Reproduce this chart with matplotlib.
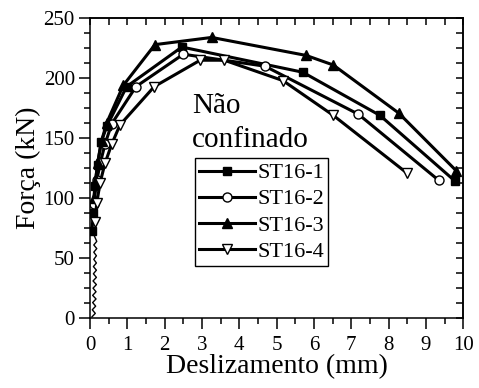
import matplotlib
matplotlib.use("Agg")
import matplotlib.pyplot as plt
from matplotlib.ticker import MultipleLocator, NullFormatter

plt.rcParams["font.family"] = ["Liberation Serif", "DejaVu Serif"]

# slip (mm) / force (kN)
st1_x = [0.05, 0.09, 0.13, 0.20, 0.30, 0.45, 0.98, 2.46, 5.70, 7.77, 9.79]
st1_y = [73, 88, 110, 128, 147, 160, 193, 226, 205, 169, 114]

st2_x = [0.10, 0.18, 0.28, 0.40, 0.58, 1.23, 2.50, 4.69, 7.19, 9.34]
st2_y = [95, 115, 130, 145, 162, 193, 220, 210, 170, 115]

st3_x = [0.10, 0.15, 0.20, 0.31, 0.45, 0.89, 1.74, 3.26, 5.79, 6.52, 8.27, 9.81]
st3_y = [100, 115, 129, 148, 163, 194, 228, 234, 219, 211, 171, 123]

st4_x = [0.13, 0.18, 0.27, 0.40, 0.58, 0.80, 1.72, 2.95, 3.60, 5.17, 6.52, 8.49]
st4_y = [80, 96, 113, 129, 145, 161, 193, 215, 215, 198, 169, 121]

# jagged initial branch near the origin
zig_x = [0.05, 0.14, 0.06, 0.15, 0.07, 0.16, 0.07, 0.16, 0.08, 0.17, 0.08,
         0.17, 0.09, 0.17, 0.09, 0.17, 0.10, 0.17, 0.10, 0.18, 0.10, 0.18, 0.05]
zig_y = [1, 4, 7, 10, 13, 16, 19, 22, 25, 28, 31,
         34, 37, 40, 43, 46, 49, 52, 55, 58, 61, 64, 73]

labels = ["ST16-1", "ST16-2", "ST16-3", "ST16-4"]

fig = plt.figure(figsize=(4.79, 3.88), dpi=100)
ax = fig.add_axes([0.188, 0.180, 0.779, 0.773])

ax.plot(zig_x, zig_y, color="black", lw=1.0)
style = dict(color="black", lw=2.2, mew=1.0, mec="black")
ax.plot(st1_x, st1_y, marker="s", ms=6, mfc="black", label=labels[0], **style)
ax.plot(st2_x, st2_y, marker="o", ms=6.5, mfc="white", label=labels[1], **style)
ax.plot(st3_x, st3_y, marker="^", ms=6.5, mfc="black", label=labels[2], **style)
ax.plot(st4_x, st4_y, marker="v", ms=7.5, mfc="white", label=labels[3], **style)

ax.set_xlim(0, 10)
ax.set_ylim(0, 250)
ax.xaxis.set_major_locator(MultipleLocator(1))
ax.xaxis.set_minor_locator(MultipleLocator(0.5))
ax.yaxis.set_major_locator(MultipleLocator(50))
ax.yaxis.set_minor_locator(MultipleLocator(12.5))
ax.tick_params(which="both", direction="out", width=1.1, labelsize=15,
               top=False, right=False)
ax.tick_params(axis="x", which="major", length=8, pad=5)
ax.tick_params(axis="y", which="major", length=8, pad=3)
ax.tick_params(which="minor", length=4.5)

# top and right ticks point inward, no labels
top = ax.secondary_xaxis("top")
top.xaxis.set_major_locator(MultipleLocator(1))
top.xaxis.set_minor_locator(MultipleLocator(0.5))
top.xaxis.set_major_formatter(NullFormatter())
top.tick_params(which="both", direction="in", length=5, width=1.1)
right = ax.secondary_yaxis("right")
right.yaxis.set_major_locator(MultipleLocator(50))
right.yaxis.set_minor_locator(MultipleLocator(12.5))
right.yaxis.set_major_formatter(NullFormatter())
right.tick_params(which="both", direction="in", length=5, width=1.1)
for s in list(ax.spines.values()) + [top.spines["top"], right.spines["right"]]:
    s.set_linewidth(1.1)

ax.set_xlabel("Deslizamento (mm)", fontsize=20, labelpad=-1)
ax.set_ylabel("Força (kN)", fontsize=20, labelpad=2)

ax.text(2.73, 171, "Não", fontsize=21, va="baseline")
ax.text(2.73, 143, "confinado", fontsize=21, va="baseline")

leg = ax.legend(loc="upper left", bbox_to_anchor=(0.281, 0.533), borderaxespad=0,
                fontsize=16, frameon=True, fancybox=False, edgecolor="black",
                framealpha=1, handlelength=2.5, handletextpad=0.1,
                labelspacing=0.25, borderpad=0.2)
leg.get_frame().set_linewidth(1.0)

fig.savefig("out.png", dpi=100)
